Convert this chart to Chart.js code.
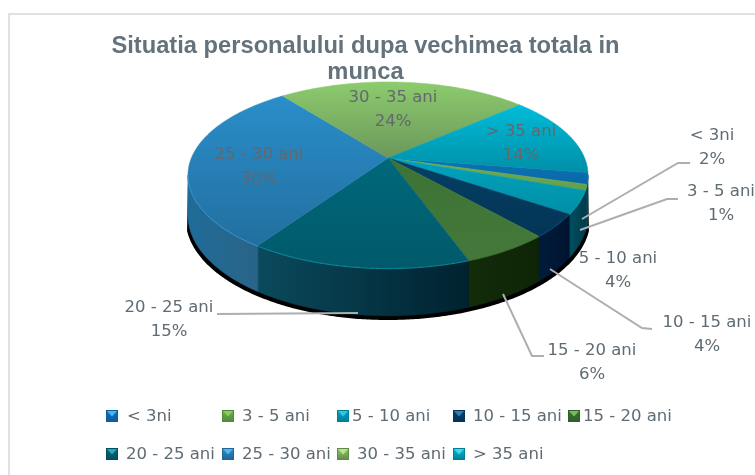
<!DOCTYPE html>
<html>
<head>
<meta charset="utf-8">
<title>Situatia personalului</title>
<script src="https://cdn.jsdelivr.net/npm/chart.js@4"></script>
<style>
    html, body { margin: 0; padding: 0; background: #fff; }
    canvas { display: block; }
</style>
</head>
<body>
<canvas id="chart" width="755" height="475"></canvas>
<script>
// data
const titleLines = ["Situatia personalului dupa vechimea totala in", "munca"];
const categories = ["< 3ni", "3 - 5 ani", "5 - 10 ani", "10 - 15 ani", "15 - 20 ani", "20 - 25 ani", "25 - 30 ani", "30 - 35 ani", "> 35 ani"];
const shares = [2, 1, 4, 4, 6, 15, 30, 24, 14];

// colours, slice order
const topLight = ["#0b74b8", "#6fb04f", "#00a3bd", "#063f66", "#3c7434", "#00687a", "#2a8eca", "#8ccb6e", "#00bcd8"];
const topDark = ["#0a68a6", "#649f4a", "#008fa6", "#033555", "#44783a", "#005a6b", "#226f9f", "#6c985a", "#008fa8"];
const wallLight = ["#00485a", "#00485a", "#00505f", "#001c3c", "#132c0a", "#0a4a5c", "#1f6b98", "#3f6b30", "#006070"];
const wallDark = ["#00485a", "#00485a", "#003c4c", "#001430", "#0e2406", "#00222f", "#2a6488", "#3f6b30", "#006070"];
const rimColors = ["#0a74b0", "#6aa84c", "#00a0b8", "#064a78", "#3f7a36", "#0a8ca0", "#3a96cc", "#8ccb6e", "#00a8c4"];
const keyBase = ["#0a5f98", "#4f8a38", "#007f96", "#03325a", "#2f5f28", "#004f5e", "#1f6595", "#5f8a48", "#007f98"];
const keyShine = ["#4db4ea", "#8ccb5e", "#35c4dc", "#2f7fb4", "#7fb860", "#2aa8b8", "#58b4e8", "#c0e08c", "#4cd4ea"];

// pie geometry in page pixels: apex, radii, perspective and wall height
const apex = {x: 388, y: 158};
const radiusX = 196.6, radiusY = 89.9, tilt = 0.1828, wallHeight = 39;

// where each data label sits, and its leader line when it has one
const labelSpots = [[712, 136], [721, 192], [618, 259], [707, 323], [592, 351], [169, 308], [259, 155], [393, 98], [521, 132]];
const labelInside = [false, false, false, false, false, false, true, true, true];
const labelStep = 23.5;
const leaders = [
    [[582, 219], [678, 163], [690, 163]],
    [[580, 230], [667, 199], [678, 199]],
    null,
    [[550, 269], [642, 328], [652, 329]],
    [[503, 294], [532, 356], [544, 356]],
    [[358, 313], [217, 314]],
    null, null, null
];

// legend grid
const legendColumns = [106, 222, 337, 453, 568];
const legendRows = [416, 454];
const legendTextOffsets = [21, 20, 15, 20, 15, 20, 20, 20, 20];

const textFont = '16.5px "DejaVu Sans"';
const textColor = "#5f6b73";

function project(a, drop, scale) {
    const u = Math.cos(a), v = Math.sin(a), d = 1 - tilt * v;
    const s = scale || 1;
    return {
        x: apex.x + s * radiusX * u / d,
        y: apex.y + radiusY * v / d + drop / d
    };
}

function arcPoints(from, to, drop, scale) {
    const steps = Math.max(2, Math.ceil((to - from) / 0.01));
    const pts = [];
    for (let i = 0; i <= steps; i++) pts.push(project(from + (to - from) * i / steps, drop, scale));
    return pts;
}

function tracePath(ctx, pts) {
    pts.forEach((p, i) => i ? ctx.lineTo(p.x, p.y) : ctx.moveTo(p.x, p.y));
}

// front of the drum is only seen between the two side extremes
const sideAngle = Math.asin(tilt);

class Pie3DController extends Chart.PieController {
    draw() {
        const ctx = this.chart.ctx;
        const arcs = this._cachedMeta.data;
        ctx.save();

        // black sliver under the drum
        const under = arcPoints(0.3, Math.PI - 0.3, wallHeight + 3.5, 1.012);
        const rimBack = arcPoints(sideAngle, Math.PI - sideAngle, 0).reverse();
        ctx.beginPath();
        tracePath(ctx, under);
        rimBack.forEach(p => ctx.lineTo(p.x, p.y));
        ctx.closePath();
        ctx.fillStyle = "#000";
        ctx.fill();

        // walls
        arcs.forEach((arc, i) => {
            const low = Math.max(arc.startAngle, sideAngle);
            const high = Math.min(arc.endAngle, Math.PI - sideAngle);
            if (high <= low) return;
            const rim = arcPoints(low, high, 0);
            const foot = arcPoints(low, high, wallHeight).reverse();
            const grad = ctx.createLinearGradient(rim[0].x, 0, rim[rim.length - 1].x, 0);
            grad.addColorStop(0, wallDark[i]);
            grad.addColorStop(1, wallLight[i]);
            ctx.beginPath();
            tracePath(ctx, rim);
            foot.forEach(p => ctx.lineTo(p.x, p.y));
            ctx.closePath();
            ctx.fillStyle = grad;
            ctx.strokeStyle = grad;
            ctx.lineWidth = 0.6;
            ctx.fill();
            ctx.stroke();
        });

        // top faces
        arcs.forEach((arc, i) => {
            const rim = arcPoints(arc.startAngle, arc.endAngle, 0);
            const ys = rim.map(p => p.y).concat(apex.y);
            const grad = ctx.createLinearGradient(0, Math.min(...ys), 0, Math.max(...ys));
            grad.addColorStop(0, topLight[i]);
            grad.addColorStop(1, topDark[i]);
            ctx.beginPath();
            ctx.moveTo(apex.x, apex.y);
            rim.forEach(p => ctx.lineTo(p.x, p.y));
            ctx.closePath();
            ctx.fillStyle = grad;
            ctx.strokeStyle = grad;
            ctx.lineWidth = 0.6;
            ctx.fill();
            ctx.stroke();
        });

        // thin bright edge along the front rim
        arcs.forEach((arc, i) => {
            const low = Math.max(arc.startAngle, sideAngle);
            const high = Math.min(arc.endAngle, Math.PI - sideAngle);
            if (high <= low) return;
            ctx.beginPath();
            tracePath(ctx, arcPoints(low, high, 0.5));
            ctx.strokeStyle = rimColors[i];
            ctx.lineWidth = 1;
            ctx.stroke();
        });
        ctx.restore();
    }
}
Pie3DController.id = "pie3d";
Chart.register(Pie3DController);

// bevelled legend key
function drawKey(ctx, x, y, size, i) {
    const body = ctx.createLinearGradient(0, y, 0, y + size);
    body.addColorStop(0, topLight[i]);
    body.addColorStop(1, keyBase[i]);
    ctx.fillStyle = body;
    ctx.fillRect(x, y, size, size);
    ctx.fillStyle = keyShine[i];
    ctx.beginPath();
    ctx.moveTo(x + 1, y + 1);
    ctx.lineTo(x + size - 1, y + 1);
    ctx.lineTo(x + size / 2, y + size / 2 + 0.5);
    ctx.closePath();
    ctx.fill();
    ctx.strokeStyle = keyBase[i];
    ctx.lineWidth = 1;
    ctx.strokeRect(x + 0.5, y + 0.5, size - 1, size - 1);
}

const frameAndText = {
    id: "frameAndText",
    beforeDraw(chart) {
        const ctx = chart.ctx;
        ctx.save();
        ctx.strokeStyle = "#dfe2e2";
        ctx.lineWidth = 2;
        ctx.beginPath();
        ctx.moveTo(9, 475);
        ctx.lineTo(9, 14);
        ctx.lineTo(755, 14);
        ctx.stroke();
        ctx.restore();
    },
    afterDatasetsDraw(chart) {
        const ctx = chart.ctx;
        ctx.save();

        ctx.strokeStyle = "#a9afb2";
        ctx.lineWidth = 2;
        leaders.forEach(line => {
            if (!line) return;
            ctx.beginPath();
            line.forEach((p, i) => i ? ctx.lineTo(p[0], p[1]) : ctx.moveTo(p[0], p[1]));
            ctx.stroke();
        });

        ctx.font = textFont;
        ctx.textAlign = "center";
        ctx.textBaseline = "middle";
        categories.forEach((name, i) => {
            const spot = labelSpots[i];
            ctx.fillStyle = labelInside[i] ? "#62686c" : textColor;
            ctx.fillText(name, spot[0], spot[1]);
            ctx.fillText(shares[i] + "%", spot[0], spot[1] + labelStep);
        });

        // legend
        ctx.textAlign = "left";
        categories.forEach((name, i) => {
            const row = i < legendColumns.length ? 0 : 1;
            const col = row ? i - legendColumns.length : i;
            const x = legendColumns[col], y = legendRows[row];
            drawKey(ctx, x, y - 6, 12, i);
            ctx.fillStyle = textColor;
            ctx.fillText(name, x + legendTextOffsets[i], y + 1);
        });
        ctx.restore();
    }
};

new Chart(document.getElementById("chart"), {
    type: "pie3d",
    data: {
        labels: categories,
        datasets: [{data: shares, backgroundColor: topDark, borderWidth: 0}]
    },
    options: {
        responsive: false,
        animation: false,
        rotation: 99,
        layout: {padding: {right: 24}},
        plugins: {
            legend: {display: false},
            tooltip: {enabled: false},
            title: {
                display: true,
                text: titleLines,
                color: "#64727c",
                font: {family: '"Liberation Sans"', size: 23.7, weight: "bold", lineHeight: 1.1},
                padding: {top: 33, bottom: 0}
            }
        }
    },
    plugins: [frameAndText]
});
</script>
</body>
</html>
